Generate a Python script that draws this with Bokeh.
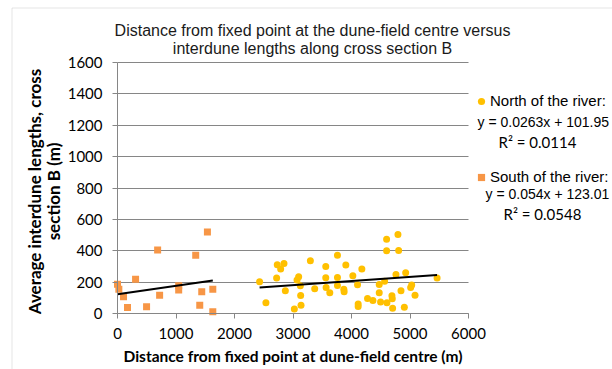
from bokeh.plotting import figure
from bokeh.models import Label, BoxAnnotation, FixedTicker, Legend, LegendItem
from bokeh.embed import file_html
from bokeh.resources import INLINE

# ---- data ----
north_x = [2429, 2537, 2720, 2731, 2789, 2846, 2869, 3023, 3069, 3097, 3126, 3131, 3137,
           3297, 3371, 3560, 3560, 3566, 3629, 3760, 3760, 3760, 3869, 3874, 3903, 4023,
           4103, 4114, 4114, 4177, 4274, 4366, 4474, 4474, 4497, 4566, 4600, 4600, 4606,
           4691, 4697, 4703, 4760, 4794, 4806, 4846, 4903, 4926, 5011, 5029, 5086, 5463]
north_y = [202, 68, 226, 311, 283, 319, 145, 28, 213, 234, 177, 115, 53,
           336, 157, 300, 228, 166, 132, 372, 230, 179, 155, 138, 309, 240,
           183, 60, 45, 283, 96, 83, 185, 132, 74, 206, 474, 400, 68,
           113, 94, 34, 249, 504, 402, 145, 40, 260, 166, 181, 117, 226]

south_x = [0, 23, 103, 171, 309, 497, 686, 720, 1046, 1046, 1337, 1406, 1440, 1537, 1629, 1629]
south_y = [187, 155, 106, 38, 219, 43, 404, 117, 177, 150, 372, 53, 138, 519, 155, 11]

north_slope, north_intercept = 0.0263, 101.95
south_slope, south_intercept = 0.054, 123.01

x_ticks = [0, 1000, 2000, 3000, 4000, 5000, 6000]
y_ticks = [0, 200, 400, 600, 800, 1000, 1200, 1400, 1600]

title_lines = ["Distance from fixed point at the dune-field centre versus",
               "interdune lengths along cross section B"]
x_label = "Distance from fixed point at dune-field centre (m)"
y_label_lines = ["Average interdune lengths, cross", "section B (m)"]
north_legend = ["North of the river:", "y = 0.0263x + 101.95", "R\u00b2 = 0.0114"]
south_legend = ["South of the river:", "y = 0.054x + 123.01", "R\u00b2 = 0.0548"]

NORTH_C = "#FFC000"
SOUTH_C = "#F79646"
GRID_C = "#868686"

# frame covers the whole canvas; axes are pinned at x=0 / y=0
W, H = 612, 369
X0_PX, X_PER_PX = 117, 6000 / 351      # px of x=0, data units per px
Y0_PX, Y_PER_PX = 313, 1600 / 251      # px of y=0
x_range = (-X0_PX * X_PER_PX, (W - X0_PX) * X_PER_PX)
y_range = (-(H - Y0_PX) * Y_PER_PX, Y0_PX * Y_PER_PX)

p = figure(width=W, height=H, x_range=x_range, y_range=y_range,
           output_backend="svg", toolbar_location=None, min_border=0)
p.title.visible = False
p.outline_line_color = None
p.background_fill_color = "white"
p.border_fill_color = "white"

p.xgrid.visible = False
p.ygrid.ticker = FixedTicker(ticks=y_ticks)
p.ygrid.grid_line_color = GRID_C
p.ygrid.grid_line_width = 1
try:
    p.ygrid.cross_bounds = (x_ticks[0], x_ticks[-1])
except Exception:
    p.ygrid.visible = False
    p.segment(x0=[x_ticks[0]] * len(y_ticks), y0=y_ticks,
              x1=[x_ticks[-1]] * len(y_ticks), y1=y_ticks,
              line_color=GRID_C, line_width=1)

p.xaxis.ticker = FixedTicker(ticks=x_ticks)
p.yaxis.ticker = FixedTicker(ticks=y_ticks)
p.xaxis.fixed_location = 0
p.yaxis.fixed_location = 0
p.xaxis.bounds = (x_ticks[0], x_ticks[-1])
p.yaxis.bounds = (y_ticks[0], y_ticks[-1])

for ax in (p.xaxis, p.yaxis):
    ax.axis_line_color = GRID_C
    ax.major_tick_line_color = GRID_C
    ax.major_tick_out = 5
    ax.major_tick_in = 0
    ax.minor_tick_line_color = None
    ax.major_label_text_font = "Lato"
    ax.major_label_text_font_size = "15px"
    ax.major_label_text_color = "black"
p.yaxis.major_label_standoff = 10
p.xaxis.major_label_standoff = 9

p.xaxis.axis_label = x_label
p.xaxis.axis_label_text_font = "Lato"
p.xaxis.axis_label_text_font_style = "bold"
p.xaxis.axis_label_text_font_size = "15.5px"
p.xaxis.axis_label_text_color = "black"
p.xaxis.axis_label_standoff = 5

# points
nr = p.scatter(north_x, north_y, marker="circle", size=7, fill_color=NORTH_C, line_color=None)
sr = p.scatter(south_x, south_y, marker="square", size=7, fill_color=SOUTH_C, line_color=None)

# trend lines from the equations shown in the chart
nx = [min(north_x), max(north_x)]
sx = [min(south_x), max(south_x)]
p.line(nx, [north_slope * v + north_intercept for v in nx], line_color="black", line_width=2)
p.line(sx, [south_slope * v + south_intercept for v in sx], line_color="black", line_width=2)

def px_x(px):
    return (px - X0_PX) * X_PER_PX

def px_y(py):
    return (Y0_PX - py) * Y_PER_PX

# outer chart border (left and top edges visible)
p.add_layout(BoxAnnotation(left=px_x(11.5), right=px_x(W + 20), top=px_y(7.5), bottom=px_y(H + 20),
                           fill_alpha=0, line_color="#a6a6a6", line_width=1))

def lab(xp, yp, text, font="Liberation Sans", size="14px", align="left", style="normal",
        angle=0, color="black"):
    p.add_layout(Label(x=px_x(xp), y=px_y(yp), text=text, text_font=font, text_font_size=size,
                       text_align=align, text_baseline="middle", text_font_style=style,
                       angle=angle, text_color=color))

# title
lab(312, 30, title_lines[0], size="16px", align="center", color="#1a1a1a")
lab(312, 47.5, title_lines[1], size="16px", align="center", color="#1a1a1a")

# y axis label (two lines, rotated)
lab(34, 191, y_label_lines[0], font="Lato", size="17px", align="center", style="bold", angle=1.5708)
lab(53, 191, y_label_lines[1], font="Lato", size="17px", align="center", style="bold", angle=1.5708)

# legend entries with markers
legend = Legend(items=[LegendItem(label=north_legend[0], renderers=[nr]),
                       LegendItem(label=south_legend[0], renderers=[sr])],
                location=(472, H - 186.7), glyph_width=18, glyph_height=20,
                label_standoff=0, spacing=56, padding=0, margin=0,
                border_line_color=None, background_fill_alpha=0,
                label_text_font="Liberation Sans", label_text_font_size="15px",
                label_text_color="black")
p.add_layout(legend)

lab(477, 121.7, north_legend[1], size="14px")
lab(498, 141.7, north_legend[2], font="Lato", size="15px")
lab(485, 193.3, south_legend[1], size="14px")
lab(503, 213.3, south_legend[2], font="Lato", size="15px")

open("out.html", "w").write(file_html(p, INLINE))
